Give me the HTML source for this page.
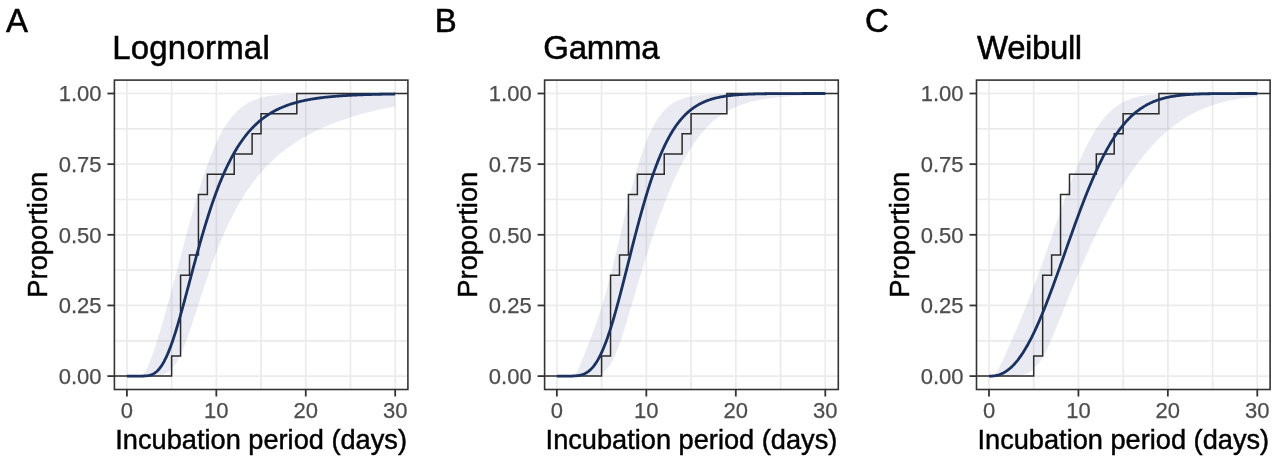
<!DOCTYPE html><html><head><meta charset="utf-8"><style>html,body{margin:0;padding:0;background:#fff;width:1280px;height:460px;overflow:hidden}svg{display:block;will-change:transform}text{font-family:"Liberation Sans",sans-serif}</style></head><body>
<svg width="1280" height="460" viewBox="0 0 1280 460">
<rect width="1280" height="460" fill="#fff"/>
<g><line x1="126.9" y1="80.1" x2="126.9" y2="389.5" stroke="#ebebeb" stroke-width="1.7"/><line x1="171.62" y1="80.1" x2="171.62" y2="389.5" stroke="#ebebeb" stroke-width="1.7"/><line x1="216.33" y1="80.1" x2="216.33" y2="389.5" stroke="#ebebeb" stroke-width="1.7"/><line x1="261.04" y1="80.1" x2="261.04" y2="389.5" stroke="#ebebeb" stroke-width="1.7"/><line x1="305.76" y1="80.1" x2="305.76" y2="389.5" stroke="#ebebeb" stroke-width="1.7"/><line x1="350.48" y1="80.1" x2="350.48" y2="389.5" stroke="#ebebeb" stroke-width="1.7"/><line x1="395.19" y1="80.1" x2="395.19" y2="389.5" stroke="#ebebeb" stroke-width="1.7"/><line x1="114.4" y1="376.1" x2="407.9" y2="376.1" stroke="#ebebeb" stroke-width="1.7"/><line x1="114.4" y1="340.78" x2="407.9" y2="340.78" stroke="#ebebeb" stroke-width="1.7"/><line x1="114.4" y1="305.45" x2="407.9" y2="305.45" stroke="#ebebeb" stroke-width="1.7"/><line x1="114.4" y1="270.12" x2="407.9" y2="270.12" stroke="#ebebeb" stroke-width="1.7"/><line x1="114.4" y1="234.8" x2="407.9" y2="234.8" stroke="#ebebeb" stroke-width="1.7"/><line x1="114.4" y1="199.48" x2="407.9" y2="199.48" stroke="#ebebeb" stroke-width="1.7"/><line x1="114.4" y1="164.15" x2="407.9" y2="164.15" stroke="#ebebeb" stroke-width="1.7"/><line x1="114.4" y1="128.82" x2="407.9" y2="128.82" stroke="#ebebeb" stroke-width="1.7"/><line x1="114.4" y1="93.5" x2="407.9" y2="93.5" stroke="#ebebeb" stroke-width="1.7"/><polygon points="126.91,376.1 128.02,376.1 129.14,376.1 130.25,376.1 131.37,376.1 132.49,376.1 133.61,376.1 134.73,376.1 135.84,376.09 136.96,376.08 138.08,376.03 139.2,375.92 140.31,375.71 141.43,375.32 142.55,374.68 143.67,373.7 144.79,372.29 145.9,370.49 147.02,368.35 148.14,365.92 149.26,363.26 150.38,360.39 151.49,357.35 152.61,354.18 153.73,350.9 154.85,347.53 155.96,344.07 157.08,340.55 158.2,336.97 159.32,333.33 160.44,329.63 161.55,325.89 162.67,322.11 163.79,318.27 164.91,314.4 166.03,310.48 167.14,306.52 168.26,302.53 169.38,298.5 170.5,294.43 171.62,290.33 172.73,286.21 173.85,282.05 174.97,277.88 176.09,273.68 177.2,269.47 178.32,265.24 179.44,261.01 180.56,256.77 181.68,252.53 182.79,248.3 183.91,244.07 185.03,239.86 186.15,235.67 187.27,231.5 188.38,227.35 189.5,223.24 190.62,219.16 191.74,215.13 192.85,211.13 193.97,207.19 195.09,203.29 196.21,199.46 197.33,195.68 198.44,191.96 199.56,188.31 200.68,184.73 201.8,181.22 202.92,177.78 204.03,174.42 205.15,171.14 206.27,167.93 207.39,164.81 208.5,161.77 209.62,158.81 210.74,155.93 211.86,153.14 212.98,150.44 214.09,147.82 215.21,145.28 216.33,142.83 217.45,140.46 218.57,138.17 219.68,135.97 220.8,133.85 221.92,131.81 223.04,129.85 224.16,127.96 225.27,126.16 226.39,124.42 227.51,122.76 228.63,121.18 229.74,119.66 230.86,118.21 231.98,116.83 233.1,115.51 234.22,114.25 235.33,113.05 236.45,111.91 237.57,110.83 238.69,109.8 239.81,108.83 240.92,107.9 242.04,107.03 243.16,106.2 244.28,105.41 245.39,104.67 246.51,103.97 247.63,103.3 248.75,102.68 249.87,102.09 250.98,101.53 252.1,101.01 253.22,100.52 254.34,100.05 255.46,99.62 256.57,99.21 257.69,98.82 258.81,98.46 259.93,98.12 261.04,97.81 262.16,97.51 263.28,97.23 264.4,96.97 265.52,96.73 266.63,96.5 267.75,96.29 268.87,96.09 269.99,95.9 271.11,95.73 272.22,95.57 273.34,95.43 274.46,95.29 275.58,95.16 276.7,95.04 277.81,94.93 278.93,94.83 280.05,94.73 281.17,94.65 282.28,94.56 283.4,94.49 284.52,94.42 285.64,94.35 286.76,94.29 287.87,94.23 288.99,94.18 290.11,94.13 291.23,94.09 292.35,94.04 293.46,94 294.58,93.97 295.7,93.93 296.82,93.9 297.93,93.87 299.05,93.85 300.17,93.82 301.29,93.8 302.41,93.78 303.52,93.76 304.64,93.74 305.76,93.72 306.88,93.71 308,93.69 309.11,93.68 310.23,93.66 311.35,93.65 312.47,93.64 313.59,93.63 314.7,93.62 315.82,93.61 316.94,93.61 318.06,93.6 319.17,93.59 320.29,93.58 321.41,93.58 322.53,93.57 323.65,93.57 324.76,93.56 325.88,93.56 327,93.55 328.12,93.55 329.24,93.55 330.35,93.54 331.47,93.54 332.59,93.54 333.71,93.53 334.82,93.53 335.94,93.53 337.06,93.53 338.18,93.53 339.3,93.52 340.41,93.52 341.53,93.52 342.65,93.52 343.77,93.52 344.89,93.52 346,93.52 347.12,93.51 348.24,93.51 349.36,93.51 350.48,93.51 351.59,93.51 352.71,93.51 353.83,93.51 354.95,93.51 356.06,93.51 357.18,93.51 358.3,93.51 359.42,93.51 360.54,93.51 361.65,93.51 362.77,93.51 363.89,93.5 365.01,93.5 366.13,93.5 367.24,93.5 368.36,93.5 369.48,93.5 370.6,93.5 371.71,93.5 372.83,93.5 373.95,93.5 375.07,93.5 376.19,93.5 377.3,93.5 378.42,93.5 379.54,93.5 380.66,93.5 381.78,93.5 382.89,93.5 384.01,93.5 385.13,93.5 386.25,93.5 387.36,93.5 388.48,93.5 389.6,93.5 390.72,93.5 391.84,93.5 392.95,93.5 394.07,93.5 395.19,93.5 395.19,106.43 394.07,106.64 392.95,106.85 391.84,107.06 390.72,107.28 389.6,107.5 388.48,107.72 387.36,107.94 386.25,108.17 385.13,108.4 384.01,108.64 382.89,108.88 381.78,109.12 380.66,109.36 379.54,109.61 378.42,109.86 377.3,110.11 376.19,110.37 375.07,110.63 373.95,110.9 372.83,111.16 371.71,111.44 370.6,111.71 369.48,111.99 368.36,112.27 367.24,112.56 366.13,112.85 365.01,113.14 363.89,113.44 362.77,113.74 361.65,114.05 360.54,114.36 359.42,114.67 358.3,114.99 357.18,115.32 356.06,115.64 354.95,115.97 353.83,116.31 352.71,116.65 351.59,117 350.48,117.35 349.36,117.7 348.24,118.06 347.12,118.43 346,118.8 344.89,119.17 343.77,119.55 342.65,119.94 341.53,120.33 340.41,120.72 339.3,121.12 338.18,121.53 337.06,121.94 335.94,122.36 334.82,122.79 333.71,123.22 332.59,123.65 331.47,124.1 330.35,124.54 329.24,125 328.12,125.46 327,125.93 325.88,126.41 324.76,126.89 323.65,127.38 322.53,127.87 321.41,128.38 320.29,128.89 319.17,129.41 318.06,129.94 316.94,130.47 315.82,131.01 314.7,131.56 313.59,132.12 312.47,132.69 311.35,133.27 310.23,133.85 309.11,134.45 308,135.05 306.88,135.67 305.76,136.29 304.64,136.92 303.52,137.57 302.41,138.22 301.29,138.88 300.17,139.56 299.05,140.25 297.93,140.94 296.82,141.65 295.7,142.37 294.58,143.11 293.46,143.85 292.35,144.61 291.23,145.38 290.11,146.16 288.99,146.96 287.87,147.77 286.76,148.6 285.64,149.44 284.52,150.29 283.4,151.16 282.28,152.05 281.17,152.95 280.05,153.87 278.93,154.8 277.81,155.76 276.7,156.73 275.58,157.72 274.46,158.72 273.34,159.75 272.22,160.79 271.11,161.86 269.99,162.94 268.87,164.05 267.75,165.18 266.63,166.33 265.52,167.5 264.4,168.7 263.28,169.92 262.16,171.16 261.04,172.43 259.93,173.72 258.81,175.05 257.69,176.39 256.57,177.77 255.46,179.18 254.34,180.61 253.22,182.07 252.1,183.57 250.98,185.09 249.87,186.65 248.75,188.24 247.63,189.87 246.51,191.52 245.39,193.22 244.28,194.95 243.16,196.72 242.04,198.52 240.92,200.37 239.81,202.25 238.69,204.18 237.57,206.14 236.45,208.15 235.33,210.2 234.22,212.3 233.1,214.44 231.98,216.63 230.86,218.86 229.74,221.14 228.63,223.47 227.51,225.84 226.39,228.27 225.27,230.75 224.16,233.27 223.04,235.85 221.92,238.48 220.8,241.16 219.68,243.89 218.57,246.67 217.45,249.5 216.33,252.39 215.21,255.33 214.09,258.31 212.98,261.35 211.86,264.43 210.74,267.56 209.62,270.74 208.5,273.96 207.39,277.22 206.27,280.53 205.15,283.87 204.03,287.24 202.92,290.64 201.8,294.06 200.68,297.51 199.56,300.98 198.44,304.45 197.33,307.93 196.21,311.41 195.09,314.88 193.97,318.33 192.85,321.76 191.74,325.15 190.62,328.51 189.5,331.81 188.38,335.05 187.27,338.22 186.15,341.31 185.03,344.28 183.91,347.12 182.79,349.82 181.68,352.38 180.56,354.79 179.44,357.06 178.32,359.18 177.2,361.14 176.09,362.97 174.97,364.64 173.85,366.17 172.73,367.56 171.62,368.81 170.5,369.93 169.38,370.93 168.26,371.8 167.14,372.57 166.03,373.23 164.91,373.79 163.79,374.27 162.67,374.67 161.55,374.99 160.44,375.26 159.32,375.47 158.2,375.64 157.08,375.77 155.96,375.87 154.85,375.94 153.73,376 152.61,376.03 151.49,376.06 150.38,376.07 149.26,376.09 148.14,376.09 147.02,376.1 145.9,376.1 144.79,376.1 143.67,376.1 142.55,376.1 141.43,376.1 140.31,376.1 139.2,376.1 138.08,376.1 136.96,376.1 135.84,376.1 134.73,376.1 133.61,376.1 132.49,376.1 131.37,376.1 130.25,376.1 129.14,376.1 128.02,376.1 126.91,376.1" fill="#3c4688" fill-opacity="0.105"/><path d="M114.4,376.1H171.62V355.91H180.56V275.17H189.5V254.99H198.44V194.43H207.39V174.24H234.22V154.06H252.1V133.87H261.04V113.69H296.82V93.5H407.9" fill="none" stroke="#2b2b2b" stroke-width="1.5" stroke-linejoin="miter"/><polyline points="126.9,376.1 127.79,376.1 128.69,376.1 129.58,376.1 130.48,376.1 131.37,376.1 132.27,376.1 133.16,376.1 134.05,376.1 134.95,376.1 135.84,376.1 136.74,376.1 137.63,376.1 138.53,376.1 139.42,376.09 140.31,376.09 141.21,376.08 142.1,376.07 143,376.05 143.89,376.01 144.79,375.97 145.68,375.9 146.57,375.82 147.47,375.7 148.36,375.55 149.26,375.37 150.15,375.14 151.05,374.85 151.94,374.51 152.83,374.11 153.73,373.63 154.62,373.08 155.52,372.45 156.41,371.73 157.31,370.92 158.2,370.01 159.09,369 159.99,367.9 160.88,366.68 161.78,365.36 162.67,363.93 163.57,362.39 164.46,360.74 165.35,358.98 166.25,357.12 167.14,355.15 168.04,353.07 168.93,350.89 169.83,348.62 170.72,346.24 171.62,343.78 172.51,341.23 173.4,338.59 174.3,335.87 175.19,333.08 176.09,330.21 176.98,327.28 177.88,324.29 178.77,321.23 179.66,318.13 180.56,314.98 181.45,311.79 182.35,308.56 183.24,305.3 184.14,302.01 185.03,298.69 185.92,295.36 186.82,292.01 187.71,288.65 188.61,285.28 189.5,281.91 190.4,278.54 191.29,275.17 192.18,271.81 193.08,268.46 193.97,265.13 194.87,261.81 195.76,258.51 196.66,255.23 197.55,251.98 198.44,248.76 199.34,245.56 200.23,242.39 201.13,239.26 202.02,236.16 202.92,233.09 203.81,230.07 204.7,227.08 205.6,224.13 206.49,221.22 207.39,218.35 208.28,215.53 209.18,212.74 210.07,210 210.96,207.31 211.86,204.66 212.75,202.05 213.65,199.49 214.54,196.98 215.44,194.51 216.33,192.09 217.22,189.71 218.12,187.37 219.01,185.09 219.91,182.84 220.8,180.64 221.7,178.49 222.59,176.38 223.48,174.32 224.38,172.29 225.27,170.32 226.17,168.38 227.06,166.48 227.96,164.63 228.85,162.82 229.74,161.05 230.64,159.32 231.53,157.63 232.43,155.97 233.32,154.36 234.22,152.78 235.11,151.24 236,149.74 236.9,148.27 237.79,146.84 238.69,145.44 239.58,144.08 240.48,142.75 241.37,141.45 242.26,140.19 243.16,138.95 244.05,137.75 244.95,136.58 245.84,135.43 246.74,134.32 247.63,133.23 248.52,132.17 249.42,131.14 250.31,130.13 251.21,129.15 252.1,128.2 253,127.27 253.89,126.36 254.78,125.48 255.68,124.62 256.57,123.78 257.47,122.96 258.36,122.17 259.26,121.4 260.15,120.65 261.04,119.91 261.94,119.2 262.83,118.51 263.73,117.83 264.62,117.17 265.52,116.53 266.41,115.91 267.31,115.3 268.2,114.71 269.09,114.14 269.99,113.58 270.88,113.04 271.78,112.51 272.67,111.99 273.57,111.49 274.46,111.01 275.35,110.53 276.25,110.07 277.14,109.62 278.04,109.19 278.93,108.76 279.83,108.35 280.72,107.95 281.61,107.56 282.51,107.18 283.4,106.81 284.3,106.45 285.19,106.1 286.09,105.76 286.98,105.43 287.87,105.1 288.77,104.79 289.66,104.49 290.56,104.19 291.45,103.9 292.35,103.62 293.24,103.35 294.13,103.09 295.03,102.83 295.92,102.58 296.82,102.33 297.71,102.1 298.61,101.87 299.5,101.64 300.39,101.42 301.29,101.21 302.18,101 303.08,100.8 303.97,100.61 304.87,100.42 305.76,100.23 306.65,100.05 307.55,99.88 308.44,99.71 309.34,99.54 310.23,99.38 311.13,99.23 312.02,99.07 312.91,98.93 313.81,98.78 314.7,98.64 315.6,98.51 316.49,98.37 317.39,98.24 318.28,98.12 319.17,98 320.07,97.88 320.96,97.76 321.86,97.65 322.75,97.54 323.65,97.44 324.54,97.33 325.43,97.23 326.33,97.13 327.22,97.04 328.12,96.95 329.01,96.86 329.91,96.77 330.8,96.68 331.69,96.6 332.59,96.52 333.48,96.44 334.38,96.36 335.27,96.29 336.17,96.22 337.06,96.15 337.95,96.08 338.85,96.01 339.74,95.95 340.64,95.88 341.53,95.82 342.43,95.76 343.32,95.7 344.21,95.65 345.11,95.59 346,95.54 346.9,95.49 347.79,95.43 348.69,95.39 349.58,95.34 350.48,95.29 351.37,95.24 352.26,95.2 353.16,95.16 354.05,95.11 354.95,95.07 355.84,95.03 356.74,94.99 357.63,94.96 358.52,94.92 359.42,94.88 360.31,94.85 361.21,94.81 362.1,94.78 363,94.75 363.89,94.72 364.78,94.69 365.68,94.66 366.57,94.63 367.47,94.6 368.36,94.57 369.26,94.55 370.15,94.52 371.04,94.49 371.94,94.47 372.83,94.45 373.73,94.42 374.62,94.4 375.52,94.38 376.41,94.35 377.3,94.33 378.2,94.31 379.09,94.29 379.99,94.27 380.88,94.25 381.78,94.24 382.67,94.22 383.56,94.2 384.46,94.18 385.35,94.17 386.25,94.15 387.14,94.13 388.04,94.12 388.93,94.1 389.82,94.09 390.72,94.07 391.61,94.06 392.51,94.05 393.4,94.03 394.3,94.02 395.19,94.01" fill="none" stroke="#1b3160" stroke-width="2.8" stroke-linejoin="round"/><rect x="114.4" y="80.1" width="293.5" height="309.4" fill="none" stroke="#333" stroke-width="1.6"/><line x1="107.4" y1="376.1" x2="114.4" y2="376.1" stroke="#333" stroke-width="1.8"/><text x="101.5" y="383.9" font-size="22" fill="#4d4d4d" stroke="#4d4d4d" stroke-width="0.25" text-anchor="end">0.00</text><line x1="107.4" y1="305.45" x2="114.4" y2="305.45" stroke="#333" stroke-width="1.8"/><text x="101.5" y="313.25" font-size="22" fill="#4d4d4d" stroke="#4d4d4d" stroke-width="0.25" text-anchor="end">0.25</text><line x1="107.4" y1="234.8" x2="114.4" y2="234.8" stroke="#333" stroke-width="1.8"/><text x="101.5" y="242.6" font-size="22" fill="#4d4d4d" stroke="#4d4d4d" stroke-width="0.25" text-anchor="end">0.50</text><line x1="107.4" y1="164.15" x2="114.4" y2="164.15" stroke="#333" stroke-width="1.8"/><text x="101.5" y="171.95" font-size="22" fill="#4d4d4d" stroke="#4d4d4d" stroke-width="0.25" text-anchor="end">0.75</text><line x1="107.4" y1="93.5" x2="114.4" y2="93.5" stroke="#333" stroke-width="1.8"/><text x="101.5" y="101.3" font-size="22" fill="#4d4d4d" stroke="#4d4d4d" stroke-width="0.25" text-anchor="end">1.00</text><line x1="126.9" y1="389.5" x2="126.9" y2="396.5" stroke="#333" stroke-width="1.8"/><text x="126.9" y="417.8" font-size="22" fill="#4d4d4d" stroke="#4d4d4d" stroke-width="0.25" text-anchor="middle">0</text><line x1="216.33" y1="389.5" x2="216.33" y2="396.5" stroke="#333" stroke-width="1.8"/><text x="216.33" y="417.8" font-size="22" fill="#4d4d4d" stroke="#4d4d4d" stroke-width="0.25" text-anchor="middle">10</text><line x1="305.76" y1="389.5" x2="305.76" y2="396.5" stroke="#333" stroke-width="1.8"/><text x="305.76" y="417.8" font-size="22" fill="#4d4d4d" stroke="#4d4d4d" stroke-width="0.25" text-anchor="middle">20</text><line x1="395.19" y1="389.5" x2="395.19" y2="396.5" stroke="#333" stroke-width="1.8"/><text x="395.19" y="417.8" font-size="22" fill="#4d4d4d" stroke="#4d4d4d" stroke-width="0.25" text-anchor="middle">30</text><text x="261.15" y="448.7" font-size="27.2" fill="#000" stroke="#000" stroke-width="0.45" text-anchor="middle">Incubation period (days)</text><text transform="translate(47.1,234.7) rotate(-90)" font-size="27.3" fill="#000" stroke="#000" stroke-width="0.45" text-anchor="middle">Proportion</text><text x="112.2" y="59.3" letter-spacing="0.2" font-size="33" fill="#000" stroke="#000" stroke-width="0.5">Lognormal</text><text x="6.0" y="32.4" font-size="33" fill="#000" stroke="#000" stroke-width="0.5">A</text></g>
<g><line x1="556.85" y1="80.1" x2="556.85" y2="389.5" stroke="#ebebeb" stroke-width="1.7"/><line x1="601.59" y1="80.1" x2="601.59" y2="389.5" stroke="#ebebeb" stroke-width="1.7"/><line x1="646.33" y1="80.1" x2="646.33" y2="389.5" stroke="#ebebeb" stroke-width="1.7"/><line x1="691.07" y1="80.1" x2="691.07" y2="389.5" stroke="#ebebeb" stroke-width="1.7"/><line x1="735.81" y1="80.1" x2="735.81" y2="389.5" stroke="#ebebeb" stroke-width="1.7"/><line x1="780.55" y1="80.1" x2="780.55" y2="389.5" stroke="#ebebeb" stroke-width="1.7"/><line x1="825.29" y1="80.1" x2="825.29" y2="389.5" stroke="#ebebeb" stroke-width="1.7"/><line x1="544.6" y1="376.1" x2="838.3" y2="376.1" stroke="#ebebeb" stroke-width="1.7"/><line x1="544.6" y1="340.78" x2="838.3" y2="340.78" stroke="#ebebeb" stroke-width="1.7"/><line x1="544.6" y1="305.45" x2="838.3" y2="305.45" stroke="#ebebeb" stroke-width="1.7"/><line x1="544.6" y1="270.12" x2="838.3" y2="270.12" stroke="#ebebeb" stroke-width="1.7"/><line x1="544.6" y1="234.8" x2="838.3" y2="234.8" stroke="#ebebeb" stroke-width="1.7"/><line x1="544.6" y1="199.48" x2="838.3" y2="199.48" stroke="#ebebeb" stroke-width="1.7"/><line x1="544.6" y1="164.15" x2="838.3" y2="164.15" stroke="#ebebeb" stroke-width="1.7"/><line x1="544.6" y1="128.82" x2="838.3" y2="128.82" stroke="#ebebeb" stroke-width="1.7"/><line x1="544.6" y1="93.5" x2="838.3" y2="93.5" stroke="#ebebeb" stroke-width="1.7"/><polygon points="556.86,376.1 557.97,376.1 559.09,376.1 560.21,376.1 561.32,376.1 562.44,376.1 563.56,376.1 564.68,376.1 565.8,376.1 566.92,376.1 568.03,376.1 569.15,376.09 570.27,376.07 571.39,376.01 572.51,375.84 573.63,375.45 574.75,374.68 575.86,373.4 576.98,371.66 578.1,369.54 579.22,367.12 580.34,364.5 581.46,361.75 582.58,358.93 583.69,356.07 584.81,353.2 585.93,350.34 587.05,347.48 588.17,344.61 589.29,341.74 590.4,338.85 591.52,335.93 592.64,332.97 593.76,329.97 594.88,326.9 596,323.77 597.12,320.57 598.23,317.28 599.35,313.91 600.47,310.45 601.59,306.89 602.71,303.24 603.83,299.49 604.95,295.64 606.06,291.69 607.18,287.66 608.3,283.53 609.42,279.31 610.54,275.01 611.66,270.63 612.77,266.18 613.89,261.67 615.01,257.11 616.13,252.49 617.25,247.84 618.37,243.16 619.49,238.45 620.6,233.74 621.72,229.02 622.84,224.31 623.96,219.62 625.08,214.96 626.2,210.33 627.32,205.75 628.43,201.23 629.55,196.76 630.67,192.37 631.79,188.06 632.91,183.84 634.03,179.7 635.14,175.66 636.26,171.73 637.38,167.9 638.5,164.19 639.62,160.59 640.74,157.1 641.86,153.74 642.97,150.49 644.09,147.37 645.21,144.37 646.33,141.49 647.45,138.74 648.57,136.1 649.69,133.58 650.8,131.18 651.92,128.89 653.04,126.72 654.16,124.65 655.28,122.69 656.4,120.84 657.51,119.08 658.63,117.42 659.75,115.86 660.87,114.38 661.99,112.99 663.11,111.68 664.23,110.45 665.34,109.3 666.46,108.22 667.58,107.2 668.7,106.25 669.82,105.36 670.94,104.53 672.06,103.75 673.17,103.03 674.29,102.35 675.41,101.72 676.53,101.13 677.65,100.59 678.77,100.08 679.88,99.61 681,99.16 682.12,98.76 683.24,98.38 684.36,98.02 685.48,97.7 686.6,97.39 687.71,97.11 688.83,96.85 689.95,96.61 691.07,96.38 692.19,96.17 693.31,95.98 694.43,95.8 695.54,95.64 696.66,95.49 697.78,95.34 698.9,95.21 700.02,95.09 701.14,94.97 702.25,94.87 703.37,94.77 704.49,94.68 705.61,94.59 706.73,94.51 707.85,94.44 708.97,94.37 710.08,94.31 711.2,94.25 712.32,94.2 713.44,94.15 714.56,94.1 715.68,94.06 716.8,94.02 717.91,93.98 719.03,93.95 720.15,93.91 721.27,93.88 722.39,93.86 723.51,93.83 724.62,93.81 725.74,93.78 726.86,93.76 727.98,93.75 729.1,93.73 730.22,93.71 731.34,93.7 732.45,93.68 733.57,93.67 734.69,93.66 735.81,93.65 736.93,93.64 738.05,93.63 739.17,93.62 740.28,93.61 741.4,93.6 742.52,93.59 743.64,93.59 744.76,93.58 745.88,93.57 747,93.57 748.11,93.56 749.23,93.56 750.35,93.56 751.47,93.55 752.59,93.55 753.71,93.54 754.82,93.54 755.94,93.54 757.06,93.54 758.18,93.53 759.3,93.53 760.42,93.53 761.54,93.53 762.65,93.53 763.77,93.52 764.89,93.52 766.01,93.52 767.13,93.52 768.25,93.52 769.37,93.52 770.48,93.52 771.6,93.51 772.72,93.51 773.84,93.51 774.96,93.51 776.08,93.51 777.19,93.51 778.31,93.51 779.43,93.51 780.55,93.51 781.67,93.51 782.79,93.51 783.91,93.51 785.02,93.51 786.14,93.51 787.26,93.51 788.38,93.5 789.5,93.5 790.62,93.5 791.74,93.5 792.85,93.5 793.97,93.5 795.09,93.5 796.21,93.5 797.33,93.5 798.45,93.5 799.56,93.5 800.68,93.5 801.8,93.5 802.92,93.5 804.04,93.5 805.16,93.5 806.28,93.5 807.39,93.5 808.51,93.5 809.63,93.5 810.75,93.5 811.87,93.5 812.99,93.5 814.11,93.5 815.22,93.5 816.34,93.5 817.46,93.5 818.58,93.5 819.7,93.5 820.82,93.5 821.93,93.5 823.05,93.5 824.17,93.5 825.29,93.5 825.29,94.66 824.17,94.69 823.05,94.72 821.93,94.76 820.82,94.79 819.7,94.83 818.58,94.86 817.46,94.9 816.34,94.94 815.22,94.98 814.11,95.02 812.99,95.06 811.87,95.11 810.75,95.15 809.63,95.2 808.51,95.25 807.39,95.3 806.28,95.35 805.16,95.4 804.04,95.45 802.92,95.51 801.8,95.56 800.68,95.62 799.56,95.68 798.45,95.74 797.33,95.81 796.21,95.87 795.09,95.94 793.97,96.01 792.85,96.08 791.74,96.15 790.62,96.23 789.5,96.31 788.38,96.39 787.26,96.47 786.14,96.56 785.02,96.65 783.91,96.74 782.79,96.83 781.67,96.93 780.55,97.04 779.43,97.14 778.31,97.26 777.19,97.37 776.08,97.49 774.96,97.62 773.84,97.75 772.72,97.88 771.6,98.02 770.48,98.17 769.37,98.32 768.25,98.48 767.13,98.64 766.01,98.81 764.89,98.98 763.77,99.17 762.65,99.36 761.54,99.56 760.42,99.76 759.3,99.97 758.18,100.2 757.06,100.43 755.94,100.67 754.82,100.92 753.71,101.17 752.59,101.44 751.47,101.72 750.35,102.01 749.23,102.31 748.11,102.63 747,102.95 745.88,103.29 744.76,103.64 743.64,104 742.52,104.38 741.4,104.77 740.28,105.18 739.17,105.6 738.05,106.04 736.93,106.5 735.81,106.97 734.69,107.46 733.57,107.97 732.45,108.5 731.34,109.04 730.22,109.61 729.1,110.2 727.98,110.81 726.86,111.44 725.74,112.09 724.62,112.77 723.51,113.48 722.39,114.2 721.27,114.96 720.15,115.74 719.03,116.54 717.91,117.38 716.8,118.24 715.68,119.13 714.56,120.06 713.44,121.01 712.32,122 711.2,123.02 710.08,124.07 708.97,125.16 707.85,126.28 706.73,127.44 705.61,128.63 704.49,129.86 703.37,131.13 702.25,132.44 701.14,133.79 700.02,135.18 698.9,136.6 697.78,138.08 696.66,139.59 695.54,141.15 694.43,142.75 693.31,144.39 692.19,146.08 691.07,147.82 689.95,149.6 688.83,151.43 687.71,153.3 686.6,155.23 685.48,157.2 684.36,159.22 683.24,161.28 682.12,163.4 681,165.56 679.88,167.78 678.77,170.04 677.65,172.36 676.53,174.72 675.41,177.14 674.29,179.6 673.17,182.11 672.06,184.67 670.94,187.28 669.82,189.94 668.7,192.65 667.58,195.41 666.46,198.22 665.34,201.07 664.23,203.97 663.11,206.92 661.99,209.91 660.87,212.95 659.75,216.03 658.63,219.16 657.51,222.33 656.4,225.54 655.28,228.79 654.16,232.09 653.04,235.42 651.92,238.8 650.8,242.21 649.69,245.66 648.57,249.14 647.45,252.65 646.33,256.2 645.21,259.78 644.09,263.39 642.97,267.03 641.86,270.69 640.74,274.38 639.62,278.09 638.5,281.82 637.38,285.57 636.26,289.33 635.14,293.1 634.03,296.88 632.91,300.67 631.79,304.45 630.67,308.23 629.55,312 628.43,315.75 627.32,319.48 626.2,323.18 625.08,326.85 623.96,330.47 622.84,334.03 621.72,337.53 620.6,340.94 619.49,344.21 618.37,347.31 617.25,350.24 616.13,352.98 615.01,355.55 613.89,357.94 612.77,360.14 611.66,362.17 610.54,364.02 609.42,365.7 608.3,367.22 607.18,368.57 606.06,369.77 604.95,370.83 603.83,371.75 602.71,372.55 601.59,373.23 600.47,373.81 599.35,374.29 598.23,374.7 597.12,375.02 596,375.29 594.88,375.5 593.76,375.66 592.64,375.78 591.52,375.88 590.4,375.95 589.29,376 588.17,376.03 587.05,376.06 585.93,376.07 584.81,376.08 583.69,376.09 582.58,376.1 581.46,376.1 580.34,376.1 579.22,376.1 578.1,376.1 576.98,376.1 575.86,376.1 574.75,376.1 573.63,376.1 572.51,376.1 571.39,376.1 570.27,376.1 569.15,376.1 568.03,376.1 566.92,376.1 565.8,376.1 564.68,376.1 563.56,376.1 562.44,376.1 561.32,376.1 560.21,376.1 559.09,376.1 557.97,376.1 556.86,376.1" fill="#3c4688" fill-opacity="0.105"/><path d="M544.6,376.1H601.59V355.91H610.54V275.17H619.49V254.99H628.43V194.43H637.38V174.24H664.23V154.06H682.12V133.87H691.07V113.69H726.86V93.5H838.3" fill="none" stroke="#2b2b2b" stroke-width="1.5" stroke-linejoin="miter"/><polyline points="556.85,376.1 557.74,376.1 558.64,376.1 559.53,376.1 560.43,376.1 561.32,376.1 562.22,376.1 563.11,376.1 564.01,376.1 564.9,376.1 565.8,376.1 566.69,376.1 567.59,376.09 568.48,376.09 569.38,376.08 570.27,376.07 571.17,376.05 572.06,376.03 572.96,376 573.85,375.96 574.75,375.91 575.64,375.84 576.54,375.76 577.43,375.65 578.33,375.53 579.22,375.37 580.11,375.19 581.01,374.98 581.9,374.73 582.8,374.43 583.69,374.09 584.59,373.71 585.48,373.27 586.38,372.77 587.27,372.21 588.17,371.59 589.06,370.9 589.96,370.14 590.85,369.31 591.75,368.39 592.64,367.4 593.54,366.32 594.43,365.16 595.33,363.91 596.22,362.56 597.12,361.13 598.01,359.61 598.91,357.99 599.8,356.27 600.7,354.46 601.59,352.56 602.48,350.57 603.38,348.48 604.27,346.29 605.17,344.02 606.06,341.66 606.96,339.21 607.85,336.67 608.75,334.05 609.64,331.35 610.54,328.57 611.43,325.72 612.33,322.8 613.22,319.8 614.12,316.75 615.01,313.63 615.91,310.45 616.8,307.22 617.7,303.94 618.59,300.61 619.49,297.25 620.38,293.84 621.28,290.4 622.17,286.93 623.07,283.44 623.96,279.92 624.85,276.39 625.75,272.84 626.64,269.29 627.54,265.73 628.43,262.16 629.33,258.6 630.22,255.04 631.12,251.49 632.01,247.96 632.91,244.43 633.8,240.93 634.7,237.45 635.59,233.99 636.49,230.56 637.38,227.16 638.28,223.79 639.17,220.46 640.07,217.16 640.96,213.9 641.86,210.68 642.75,207.5 643.65,204.37 644.54,201.28 645.44,198.24 646.33,195.25 647.22,192.31 648.12,189.42 649.01,186.58 649.91,183.79 650.8,181.05 651.7,178.37 652.59,175.74 653.49,173.17 654.38,170.65 655.28,168.19 656.17,165.78 657.07,163.43 657.96,161.13 658.86,158.88 659.75,156.7 660.65,154.56 661.54,152.48 662.44,150.45 663.33,148.48 664.23,146.56 665.12,144.69 666.02,142.87 666.91,141.1 667.81,139.39 668.7,137.72 669.59,136.1 670.49,134.53 671.38,133.01 672.28,131.53 673.17,130.1 674.07,128.71 674.96,127.37 675.86,126.07 676.75,124.81 677.65,123.59 678.54,122.42 679.44,121.28 680.33,120.18 681.23,119.11 682.12,118.09 683.02,117.1 683.91,116.14 684.81,115.22 685.7,114.33 686.6,113.47 687.49,112.65 688.39,111.85 689.28,111.08 690.18,110.34 691.07,109.63 691.96,108.95 692.86,108.29 693.75,107.66 694.65,107.05 695.54,106.46 696.44,105.9 697.33,105.36 698.23,104.84 699.12,104.34 700.02,103.86 700.91,103.4 701.81,102.96 702.7,102.54 703.6,102.13 704.49,101.74 705.39,101.37 706.28,101.01 707.18,100.67 708.07,100.34 708.97,100.03 709.86,99.72 710.76,99.44 711.65,99.16 712.55,98.9 713.44,98.64 714.33,98.4 715.23,98.17 716.12,97.95 717.02,97.74 717.91,97.54 718.81,97.35 719.7,97.16 720.6,96.99 721.49,96.82 722.39,96.66 723.28,96.51 724.18,96.36 725.07,96.22 725.97,96.09 726.86,95.96 727.76,95.84 728.65,95.72 729.55,95.61 730.44,95.51 731.34,95.41 732.23,95.31 733.13,95.22 734.02,95.14 734.92,95.06 735.81,94.98 736.7,94.9 737.6,94.83 738.49,94.76 739.39,94.7 740.28,94.64 741.18,94.58 742.07,94.53 742.97,94.47 743.86,94.42 744.76,94.37 745.65,94.33 746.55,94.29 747.44,94.25 748.34,94.21 749.23,94.17 750.13,94.14 751.02,94.1 751.92,94.07 752.81,94.04 753.71,94.01 754.6,93.98 755.5,93.96 756.39,93.93 757.29,93.91 758.18,93.89 759.07,93.87 759.97,93.85 760.86,93.83 761.76,93.81 762.65,93.8 763.55,93.78 764.44,93.77 765.34,93.75 766.23,93.74 767.13,93.72 768.02,93.71 768.92,93.7 769.81,93.69 770.71,93.68 771.6,93.67 772.5,93.66 773.39,93.65 774.29,93.64 775.18,93.64 776.08,93.63 776.97,93.62 777.87,93.61 778.76,93.61 779.66,93.6 780.55,93.6 781.44,93.59 782.34,93.59 783.23,93.58 784.13,93.58 785.02,93.57 785.92,93.57 786.81,93.56 787.71,93.56 788.6,93.56 789.5,93.55 790.39,93.55 791.29,93.55 792.18,93.55 793.08,93.54 793.97,93.54 794.87,93.54 795.76,93.54 796.66,93.53 797.55,93.53 798.45,93.53 799.34,93.53 800.24,93.53 801.13,93.53 802.03,93.52 802.92,93.52 803.81,93.52 804.71,93.52 805.6,93.52 806.5,93.52 807.39,93.52 808.29,93.52 809.18,93.51 810.08,93.51 810.97,93.51 811.87,93.51 812.76,93.51 813.66,93.51 814.55,93.51 815.45,93.51 816.34,93.51 817.24,93.51 818.13,93.51 819.03,93.51 819.92,93.51 820.82,93.51 821.71,93.51 822.61,93.51 823.5,93.51 824.4,93.51 825.29,93.5" fill="none" stroke="#1b3160" stroke-width="2.8" stroke-linejoin="round"/><rect x="544.6" y="80.1" width="293.7" height="309.4" fill="none" stroke="#333" stroke-width="1.6"/><line x1="537.6" y1="376.1" x2="544.6" y2="376.1" stroke="#333" stroke-width="1.8"/><text x="531.7" y="383.9" font-size="22" fill="#4d4d4d" stroke="#4d4d4d" stroke-width="0.25" text-anchor="end">0.00</text><line x1="537.6" y1="305.45" x2="544.6" y2="305.45" stroke="#333" stroke-width="1.8"/><text x="531.7" y="313.25" font-size="22" fill="#4d4d4d" stroke="#4d4d4d" stroke-width="0.25" text-anchor="end">0.25</text><line x1="537.6" y1="234.8" x2="544.6" y2="234.8" stroke="#333" stroke-width="1.8"/><text x="531.7" y="242.6" font-size="22" fill="#4d4d4d" stroke="#4d4d4d" stroke-width="0.25" text-anchor="end">0.50</text><line x1="537.6" y1="164.15" x2="544.6" y2="164.15" stroke="#333" stroke-width="1.8"/><text x="531.7" y="171.95" font-size="22" fill="#4d4d4d" stroke="#4d4d4d" stroke-width="0.25" text-anchor="end">0.75</text><line x1="537.6" y1="93.5" x2="544.6" y2="93.5" stroke="#333" stroke-width="1.8"/><text x="531.7" y="101.3" font-size="22" fill="#4d4d4d" stroke="#4d4d4d" stroke-width="0.25" text-anchor="end">1.00</text><line x1="556.85" y1="389.5" x2="556.85" y2="396.5" stroke="#333" stroke-width="1.8"/><text x="556.85" y="417.8" font-size="22" fill="#4d4d4d" stroke="#4d4d4d" stroke-width="0.25" text-anchor="middle">0</text><line x1="646.33" y1="389.5" x2="646.33" y2="396.5" stroke="#333" stroke-width="1.8"/><text x="646.33" y="417.8" font-size="22" fill="#4d4d4d" stroke="#4d4d4d" stroke-width="0.25" text-anchor="middle">10</text><line x1="735.81" y1="389.5" x2="735.81" y2="396.5" stroke="#333" stroke-width="1.8"/><text x="735.81" y="417.8" font-size="22" fill="#4d4d4d" stroke="#4d4d4d" stroke-width="0.25" text-anchor="middle">20</text><line x1="825.29" y1="389.5" x2="825.29" y2="396.5" stroke="#333" stroke-width="1.8"/><text x="825.29" y="417.8" font-size="22" fill="#4d4d4d" stroke="#4d4d4d" stroke-width="0.25" text-anchor="middle">30</text><text x="691.45" y="448.7" font-size="27.2" fill="#000" stroke="#000" stroke-width="0.45" text-anchor="middle">Incubation period (days)</text><text transform="translate(477.3,234.7) rotate(-90)" font-size="27.3" fill="#000" stroke="#000" stroke-width="0.45" text-anchor="middle">Proportion</text><text x="543.25" y="58.9" letter-spacing="-0.25" font-size="33" fill="#000" stroke="#000" stroke-width="0.5">Gamma</text><text x="434.7" y="31.8" font-size="33" fill="#000" stroke="#000" stroke-width="0.5">B</text></g>
<g><line x1="989" y1="80.1" x2="989" y2="389.5" stroke="#ebebeb" stroke-width="1.7"/><line x1="1033.71" y1="80.1" x2="1033.71" y2="389.5" stroke="#ebebeb" stroke-width="1.7"/><line x1="1078.43" y1="80.1" x2="1078.43" y2="389.5" stroke="#ebebeb" stroke-width="1.7"/><line x1="1123.14" y1="80.1" x2="1123.14" y2="389.5" stroke="#ebebeb" stroke-width="1.7"/><line x1="1167.86" y1="80.1" x2="1167.86" y2="389.5" stroke="#ebebeb" stroke-width="1.7"/><line x1="1212.58" y1="80.1" x2="1212.58" y2="389.5" stroke="#ebebeb" stroke-width="1.7"/><line x1="1257.29" y1="80.1" x2="1257.29" y2="389.5" stroke="#ebebeb" stroke-width="1.7"/><line x1="976.5" y1="376.1" x2="1270.1" y2="376.1" stroke="#ebebeb" stroke-width="1.7"/><line x1="976.5" y1="340.78" x2="1270.1" y2="340.78" stroke="#ebebeb" stroke-width="1.7"/><line x1="976.5" y1="305.45" x2="1270.1" y2="305.45" stroke="#ebebeb" stroke-width="1.7"/><line x1="976.5" y1="270.12" x2="1270.1" y2="270.12" stroke="#ebebeb" stroke-width="1.7"/><line x1="976.5" y1="234.8" x2="1270.1" y2="234.8" stroke="#ebebeb" stroke-width="1.7"/><line x1="976.5" y1="199.48" x2="1270.1" y2="199.48" stroke="#ebebeb" stroke-width="1.7"/><line x1="976.5" y1="164.15" x2="1270.1" y2="164.15" stroke="#ebebeb" stroke-width="1.7"/><line x1="976.5" y1="128.82" x2="1270.1" y2="128.82" stroke="#ebebeb" stroke-width="1.7"/><line x1="976.5" y1="93.5" x2="1270.1" y2="93.5" stroke="#ebebeb" stroke-width="1.7"/><polygon points="989.01,376.1 990.12,376.1 991.24,376.02 992.35,375.77 993.47,375.25 994.59,374.4 995.71,373.18 996.83,371.63 997.94,369.81 999.06,367.77 1000.18,365.57 1001.3,363.26 1002.41,360.86 1003.53,358.42 1004.65,355.95 1005.77,353.45 1006.89,350.94 1008,348.43 1009.12,345.91 1010.24,343.39 1011.36,340.86 1012.48,338.33 1013.59,335.79 1014.71,333.25 1015.83,330.69 1016.95,328.12 1018.06,325.53 1019.18,322.92 1020.3,320.3 1021.42,317.65 1022.54,314.99 1023.65,312.29 1024.77,309.57 1025.89,306.83 1027.01,304.05 1028.13,301.25 1029.24,298.42 1030.36,295.56 1031.48,292.68 1032.6,289.76 1033.71,286.81 1034.83,283.84 1035.95,280.84 1037.07,277.81 1038.19,274.76 1039.3,271.68 1040.42,268.58 1041.54,265.46 1042.66,262.31 1043.78,259.15 1044.89,255.97 1046.01,252.77 1047.13,249.57 1048.25,246.34 1049.37,243.12 1050.48,239.88 1051.6,236.64 1052.72,233.39 1053.84,230.15 1054.95,226.91 1056.07,223.67 1057.19,220.44 1058.31,217.22 1059.43,214.01 1060.54,210.81 1061.66,207.63 1062.78,204.48 1063.9,201.34 1065.02,198.23 1066.13,195.14 1067.25,192.09 1068.37,189.06 1069.49,186.07 1070.6,183.11 1071.72,180.19 1072.84,177.32 1073.96,174.48 1075.08,171.69 1076.19,168.94 1077.31,166.24 1078.43,163.59 1079.55,160.99 1080.67,158.44 1081.78,155.94 1082.9,153.49 1084.02,151.11 1085.14,148.77 1086.26,146.49 1087.37,144.27 1088.49,142.11 1089.61,140.01 1090.73,137.96 1091.84,135.97 1092.96,134.04 1094.08,132.17 1095.2,130.36 1096.32,128.61 1097.43,126.91 1098.55,125.27 1099.67,123.69 1100.79,122.17 1101.91,120.7 1103.02,119.29 1104.14,117.93 1105.26,116.62 1106.38,115.37 1107.49,114.17 1108.61,113.02 1109.73,111.92 1110.85,110.87 1111.97,109.86 1113.08,108.9 1114.2,107.99 1115.32,107.12 1116.44,106.29 1117.56,105.5 1118.67,104.75 1119.79,104.04 1120.91,103.36 1122.03,102.73 1123.14,102.12 1124.26,101.55 1125.38,101.01 1126.5,100.5 1127.62,100.02 1128.73,99.57 1129.85,99.14 1130.97,98.75 1132.09,98.37 1133.21,98.02 1134.32,97.69 1135.44,97.38 1136.56,97.09 1137.68,96.82 1138.8,96.56 1139.91,96.33 1141.03,96.11 1142.15,95.91 1143.27,95.73 1144.38,95.55 1145.5,95.4 1146.62,95.25 1147.74,95.11 1148.86,94.99 1149.97,94.87 1151.09,94.76 1152.21,94.66 1153.33,94.57 1154.45,94.49 1155.56,94.41 1156.68,94.34 1157.8,94.27 1158.92,94.21 1160.03,94.16 1161.15,94.1 1162.27,94.06 1163.39,94.01 1164.51,93.97 1165.62,93.93 1166.74,93.9 1167.86,93.87 1168.98,93.84 1170.1,93.81 1171.21,93.79 1172.33,93.76 1173.45,93.74 1174.57,93.72 1175.69,93.71 1176.8,93.69 1177.92,93.67 1179.04,93.66 1180.16,93.65 1181.27,93.63 1182.39,93.62 1183.51,93.61 1184.63,93.6 1185.75,93.6 1186.86,93.59 1187.98,93.58 1189.1,93.58 1190.22,93.57 1191.34,93.56 1192.45,93.56 1193.57,93.55 1194.69,93.55 1195.81,93.55 1196.92,93.54 1198.04,93.54 1199.16,93.54 1200.28,93.53 1201.4,93.53 1202.51,93.53 1203.63,93.53 1204.75,93.52 1205.87,93.52 1206.99,93.52 1208.1,93.52 1209.22,93.52 1210.34,93.52 1211.46,93.51 1212.58,93.51 1213.69,93.51 1214.81,93.51 1215.93,93.51 1217.05,93.51 1218.16,93.51 1219.28,93.51 1220.4,93.51 1221.52,93.51 1222.64,93.51 1223.75,93.51 1224.87,93.51 1225.99,93.5 1227.11,93.5 1228.23,93.5 1229.34,93.5 1230.46,93.5 1231.58,93.5 1232.7,93.5 1233.81,93.5 1234.93,93.5 1236.05,93.5 1237.17,93.5 1238.29,93.5 1239.4,93.5 1240.52,93.5 1241.64,93.5 1242.76,93.5 1243.88,93.5 1244.99,93.5 1246.11,93.5 1247.23,93.5 1248.35,93.5 1249.46,93.5 1250.58,93.5 1251.7,93.5 1252.82,93.5 1253.94,93.5 1255.05,93.5 1256.17,93.5 1257.29,93.5 1257.29,96.36 1256.17,96.47 1255.05,96.59 1253.94,96.71 1252.82,96.83 1251.7,96.96 1250.58,97.09 1249.46,97.23 1248.35,97.37 1247.23,97.52 1246.11,97.67 1244.99,97.82 1243.88,97.98 1242.76,98.15 1241.64,98.32 1240.52,98.5 1239.4,98.68 1238.29,98.87 1237.17,99.07 1236.05,99.27 1234.93,99.48 1233.81,99.69 1232.7,99.91 1231.58,100.14 1230.46,100.37 1229.34,100.61 1228.23,100.86 1227.11,101.12 1225.99,101.38 1224.87,101.66 1223.75,101.94 1222.64,102.22 1221.52,102.52 1220.4,102.83 1219.28,103.14 1218.16,103.46 1217.05,103.79 1215.93,104.14 1214.81,104.49 1213.69,104.85 1212.58,105.22 1211.46,105.6 1210.34,105.99 1209.22,106.39 1208.1,106.8 1206.99,107.23 1205.87,107.66 1204.75,108.1 1203.63,108.56 1202.51,109.03 1201.4,109.51 1200.28,110.01 1199.16,110.51 1198.04,111.03 1196.92,111.56 1195.81,112.1 1194.69,112.66 1193.57,113.23 1192.45,113.82 1191.34,114.42 1190.22,115.03 1189.1,115.66 1187.98,116.3 1186.86,116.95 1185.75,117.62 1184.63,118.31 1183.51,119.01 1182.39,119.73 1181.27,120.46 1180.16,121.21 1179.04,121.98 1177.92,122.76 1176.8,123.56 1175.69,124.37 1174.57,125.21 1173.45,126.06 1172.33,126.92 1171.21,127.81 1170.1,128.71 1168.98,129.63 1167.86,130.57 1166.74,131.52 1165.62,132.5 1164.51,133.49 1163.39,134.51 1162.27,135.54 1161.15,136.59 1160.03,137.66 1158.92,138.75 1157.8,139.86 1156.68,140.99 1155.56,142.13 1154.45,143.3 1153.33,144.49 1152.21,145.7 1151.09,146.93 1149.97,148.18 1148.86,149.45 1147.74,150.74 1146.62,152.06 1145.5,153.39 1144.38,154.74 1143.27,156.12 1142.15,157.52 1141.03,158.93 1139.91,160.37 1138.8,161.84 1137.68,163.32 1136.56,164.82 1135.44,166.35 1134.32,167.9 1133.21,169.47 1132.09,171.06 1130.97,172.67 1129.85,174.31 1128.73,175.97 1127.62,177.65 1126.5,179.35 1125.38,181.07 1124.26,182.82 1123.14,184.59 1122.03,186.38 1120.91,188.19 1119.79,190.02 1118.67,191.88 1117.56,193.76 1116.44,195.66 1115.32,197.58 1114.2,199.53 1113.08,201.5 1111.97,203.49 1110.85,205.5 1109.73,207.54 1108.61,209.59 1107.49,211.67 1106.38,213.78 1105.26,215.9 1104.14,218.05 1103.02,220.21 1101.91,222.4 1100.79,224.62 1099.67,226.85 1098.55,229.11 1097.43,231.38 1096.32,233.68 1095.2,236.01 1094.08,238.35 1092.96,240.71 1091.84,243.1 1090.73,245.51 1089.61,247.94 1088.49,250.39 1087.37,252.86 1086.26,255.35 1085.14,257.86 1084.02,260.39 1082.9,262.95 1081.78,265.52 1080.67,268.11 1079.55,270.72 1078.43,273.35 1077.31,276 1076.19,278.66 1075.08,281.35 1073.96,284.04 1072.84,286.76 1071.72,289.49 1070.6,292.23 1069.49,294.98 1068.37,297.74 1067.25,300.52 1066.13,303.3 1065.02,306.09 1063.9,308.88 1062.78,311.67 1061.66,314.47 1060.54,317.26 1059.43,320.04 1058.31,322.82 1057.19,325.58 1056.07,328.33 1054.95,331.05 1053.84,333.75 1052.72,336.42 1051.6,339.06 1050.48,341.65 1049.37,344.16 1048.25,346.58 1047.13,348.91 1046.01,351.14 1044.89,353.27 1043.78,355.3 1042.66,357.23 1041.54,359.05 1040.42,360.77 1039.3,362.38 1038.19,363.88 1037.07,365.28 1035.95,366.57 1034.83,367.76 1033.71,368.85 1032.6,369.84 1031.48,370.73 1030.36,371.53 1029.24,372.25 1028.13,372.88 1027.01,373.44 1025.89,373.92 1024.77,374.33 1023.65,374.69 1022.54,374.98 1021.42,375.23 1020.3,375.43 1019.18,375.6 1018.06,375.73 1016.95,375.83 1015.83,375.91 1014.71,375.97 1013.59,376.01 1012.48,376.04 1011.36,376.06 1010.24,376.08 1009.12,376.09 1008,376.09 1006.89,376.1 1005.77,376.1 1004.65,376.1 1003.53,376.1 1002.41,376.1 1001.3,376.1 1000.18,376.1 999.06,376.1 997.94,376.1 996.83,376.1 995.71,376.1 994.59,376.1 993.47,376.1 992.35,376.1 991.24,376.1 990.12,376.1 989.01,376.1" fill="#3c4688" fill-opacity="0.105"/><path d="M976.5,376.1H1033.71V355.91H1042.66V275.17H1051.6V254.99H1060.54V194.43H1069.49V174.24H1096.32V154.06H1114.2V133.87H1123.14V113.69H1158.92V93.5H1270.1" fill="none" stroke="#2b2b2b" stroke-width="1.5" stroke-linejoin="miter"/><polyline points="989,376.1 989.89,376.1 990.79,376.08 991.68,376.04 992.58,375.98 993.47,375.89 994.37,375.78 995.26,375.65 996.15,375.48 997.05,375.28 997.94,375.05 998.84,374.78 999.73,374.49 1000.63,374.15 1001.52,373.78 1002.41,373.38 1003.31,372.93 1004.2,372.45 1005.1,371.93 1005.99,371.36 1006.89,370.76 1007.78,370.12 1008.67,369.43 1009.57,368.71 1010.46,367.94 1011.36,367.13 1012.25,366.28 1013.15,365.38 1014.04,364.44 1014.93,363.46 1015.83,362.44 1016.72,361.37 1017.62,360.26 1018.51,359.11 1019.41,357.91 1020.3,356.67 1021.19,355.39 1022.09,354.06 1022.98,352.69 1023.88,351.28 1024.77,349.83 1025.67,348.34 1026.56,346.81 1027.45,345.23 1028.35,343.62 1029.24,341.96 1030.14,340.27 1031.03,338.54 1031.93,336.77 1032.82,334.96 1033.71,333.12 1034.61,331.24 1035.5,329.32 1036.4,327.38 1037.29,325.39 1038.19,323.38 1039.08,321.33 1039.98,319.25 1040.87,317.14 1041.76,315 1042.66,312.83 1043.55,310.64 1044.45,308.42 1045.34,306.17 1046.24,303.9 1047.13,301.6 1048.02,299.28 1048.92,296.94 1049.81,294.58 1050.71,292.21 1051.6,289.81 1052.5,287.39 1053.39,284.96 1054.28,282.52 1055.18,280.06 1056.07,277.59 1056.97,275.11 1057.86,272.61 1058.76,270.11 1059.65,267.6 1060.54,265.08 1061.44,262.56 1062.33,260.03 1063.23,257.5 1064.12,254.97 1065.02,252.44 1065.91,249.9 1066.8,247.37 1067.7,244.84 1068.59,242.31 1069.49,239.79 1070.38,237.27 1071.28,234.76 1072.17,232.26 1073.06,229.77 1073.96,227.28 1074.85,224.81 1075.75,222.34 1076.64,219.89 1077.54,217.46 1078.43,215.03 1079.32,212.63 1080.22,210.24 1081.11,207.86 1082.01,205.51 1082.9,203.17 1083.8,200.85 1084.69,198.55 1085.58,196.28 1086.48,194.02 1087.37,191.79 1088.27,189.58 1089.16,187.39 1090.06,185.23 1090.95,183.09 1091.84,180.98 1092.74,178.89 1093.63,176.83 1094.53,174.79 1095.42,172.78 1096.32,170.8 1097.21,168.85 1098.1,166.93 1099,165.03 1099.89,163.17 1100.79,161.33 1101.68,159.52 1102.58,157.74 1103.47,155.99 1104.36,154.27 1105.26,152.58 1106.15,150.92 1107.05,149.29 1107.94,147.69 1108.84,146.12 1109.73,144.58 1110.62,143.07 1111.52,141.59 1112.41,140.15 1113.31,138.73 1114.2,137.34 1115.1,135.98 1115.99,134.65 1116.88,133.35 1117.78,132.08 1118.67,130.84 1119.57,129.62 1120.46,128.44 1121.36,127.28 1122.25,126.16 1123.14,125.06 1124.04,123.98 1124.93,122.94 1125.83,121.92 1126.72,120.93 1127.62,119.96 1128.51,119.03 1129.41,118.11 1130.3,117.22 1131.19,116.36 1132.09,115.52 1132.98,114.71 1133.88,113.91 1134.77,113.15 1135.67,112.4 1136.56,111.68 1137.45,110.98 1138.35,110.3 1139.24,109.64 1140.14,109 1141.03,108.39 1141.93,107.79 1142.82,107.21 1143.71,106.65 1144.61,106.11 1145.5,105.59 1146.4,105.09 1147.29,104.6 1148.19,104.13 1149.08,103.68 1149.97,103.24 1150.87,102.82 1151.76,102.41 1152.66,102.02 1153.55,101.65 1154.45,101.28 1155.34,100.93 1156.23,100.6 1157.13,100.27 1158.02,99.96 1158.92,99.67 1159.81,99.38 1160.71,99.1 1161.6,98.84 1162.49,98.59 1163.39,98.34 1164.28,98.11 1165.18,97.89 1166.07,97.67 1166.97,97.47 1167.86,97.27 1168.75,97.09 1169.65,96.91 1170.54,96.74 1171.44,96.57 1172.33,96.41 1173.23,96.26 1174.12,96.12 1175.01,95.99 1175.91,95.86 1176.8,95.73 1177.7,95.61 1178.59,95.5 1179.49,95.39 1180.38,95.29 1181.27,95.19 1182.17,95.1 1183.06,95.01 1183.96,94.93 1184.85,94.85 1185.75,94.77 1186.64,94.7 1187.53,94.63 1188.43,94.57 1189.32,94.51 1190.22,94.45 1191.11,94.39 1192.01,94.34 1192.9,94.29 1193.79,94.25 1194.69,94.2 1195.58,94.16 1196.48,94.12 1197.37,94.08 1198.27,94.05 1199.16,94.01 1200.05,93.98 1200.95,93.95 1201.84,93.92 1202.74,93.9 1203.63,93.87 1204.53,93.85 1205.42,93.83 1206.31,93.81 1207.21,93.79 1208.1,93.77 1209,93.75 1209.89,93.73 1210.79,93.72 1211.68,93.7 1212.58,93.69 1213.47,93.68 1214.36,93.67 1215.26,93.66 1216.15,93.64 1217.05,93.63 1217.94,93.63 1218.84,93.62 1219.73,93.61 1220.62,93.6 1221.52,93.59 1222.41,93.59 1223.31,93.58 1224.2,93.58 1225.1,93.57 1225.99,93.57 1226.88,93.56 1227.78,93.56 1228.67,93.55 1229.57,93.55 1230.46,93.54 1231.36,93.54 1232.25,93.54 1233.14,93.54 1234.04,93.53 1234.93,93.53 1235.83,93.53 1236.72,93.53 1237.62,93.52 1238.51,93.52 1239.4,93.52 1240.3,93.52 1241.19,93.52 1242.09,93.52 1242.98,93.51 1243.88,93.51 1244.77,93.51 1245.66,93.51 1246.56,93.51 1247.45,93.51 1248.35,93.51 1249.24,93.51 1250.14,93.51 1251.03,93.51 1251.92,93.51 1252.82,93.51 1253.71,93.51 1254.61,93.5 1255.5,93.5 1256.4,93.5 1257.29,93.5" fill="none" stroke="#1b3160" stroke-width="2.8" stroke-linejoin="round"/><rect x="976.5" y="80.1" width="293.6" height="309.4" fill="none" stroke="#333" stroke-width="1.6"/><line x1="969.5" y1="376.1" x2="976.5" y2="376.1" stroke="#333" stroke-width="1.8"/><text x="963.6" y="383.9" font-size="22" fill="#4d4d4d" stroke="#4d4d4d" stroke-width="0.25" text-anchor="end">0.00</text><line x1="969.5" y1="305.45" x2="976.5" y2="305.45" stroke="#333" stroke-width="1.8"/><text x="963.6" y="313.25" font-size="22" fill="#4d4d4d" stroke="#4d4d4d" stroke-width="0.25" text-anchor="end">0.25</text><line x1="969.5" y1="234.8" x2="976.5" y2="234.8" stroke="#333" stroke-width="1.8"/><text x="963.6" y="242.6" font-size="22" fill="#4d4d4d" stroke="#4d4d4d" stroke-width="0.25" text-anchor="end">0.50</text><line x1="969.5" y1="164.15" x2="976.5" y2="164.15" stroke="#333" stroke-width="1.8"/><text x="963.6" y="171.95" font-size="22" fill="#4d4d4d" stroke="#4d4d4d" stroke-width="0.25" text-anchor="end">0.75</text><line x1="969.5" y1="93.5" x2="976.5" y2="93.5" stroke="#333" stroke-width="1.8"/><text x="963.6" y="101.3" font-size="22" fill="#4d4d4d" stroke="#4d4d4d" stroke-width="0.25" text-anchor="end">1.00</text><line x1="989" y1="389.5" x2="989" y2="396.5" stroke="#333" stroke-width="1.8"/><text x="989" y="417.8" font-size="22" fill="#4d4d4d" stroke="#4d4d4d" stroke-width="0.25" text-anchor="middle">0</text><line x1="1078.43" y1="389.5" x2="1078.43" y2="396.5" stroke="#333" stroke-width="1.8"/><text x="1078.43" y="417.8" font-size="22" fill="#4d4d4d" stroke="#4d4d4d" stroke-width="0.25" text-anchor="middle">10</text><line x1="1167.86" y1="389.5" x2="1167.86" y2="396.5" stroke="#333" stroke-width="1.8"/><text x="1167.86" y="417.8" font-size="22" fill="#4d4d4d" stroke="#4d4d4d" stroke-width="0.25" text-anchor="middle">20</text><line x1="1257.29" y1="389.5" x2="1257.29" y2="396.5" stroke="#333" stroke-width="1.8"/><text x="1257.29" y="417.8" font-size="22" fill="#4d4d4d" stroke="#4d4d4d" stroke-width="0.25" text-anchor="middle">30</text><text x="1123.3" y="448.7" font-size="27.2" fill="#000" stroke="#000" stroke-width="0.45" text-anchor="middle">Incubation period (days)</text><text transform="translate(909.3,234.7) rotate(-90)" font-size="27.3" fill="#000" stroke="#000" stroke-width="0.45" text-anchor="middle">Proportion</text><text x="977.0" y="59.3" letter-spacing="-0.4" font-size="33" fill="#000" stroke="#000" stroke-width="0.5">Weibull</text><text x="865.0" y="32.3" font-size="33" fill="#000" stroke="#000" stroke-width="0.5">C</text></g>
</svg></body></html>
